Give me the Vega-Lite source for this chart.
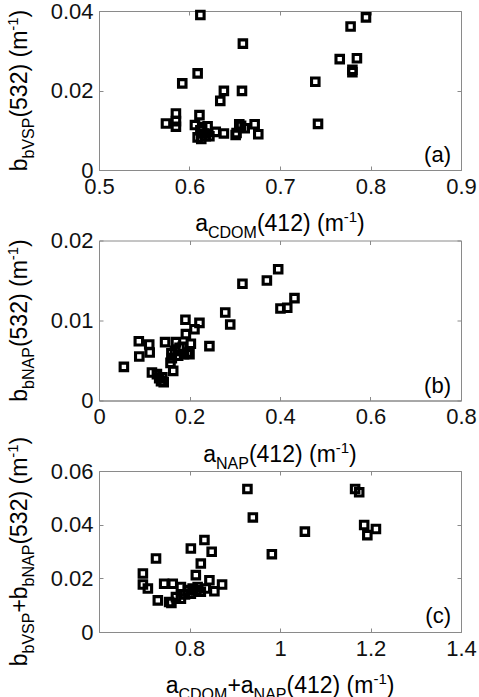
{
  "$schema": "https://vega.github.io/schema/vega-lite/v6.json",
  "padding": {"left": 5, "top": -1, "right": 0, "bottom": 0},
  "bounds": "flush",
  "spacing": 70.5,
  "config": {
    "font": "Liberation Sans",
    "view": {"stroke": "#8a8a8a", "strokeWidth": 1},
    "axis": {
      "grid": false,
      "domainColor": "#8a8a8a",
      "domainWidth": 1,
      "tickColor": "#8a8a8a",
      "tickWidth": 1,
      "tickSize": -4,
      "labelFont": "Liberation Sans",
      "labelFontSize": 22,
      "labelColor": "#111",
      "labelPadding": 10,
      "labelOverlap": false,
      "labelFlush": false,
      "labelBound": false,
      "format": "~g"
    },
    "text": {"font": "Liberation Sans", "color": "#000"}
  },
  "datasets": {
    "panelA": [
      {"a_cdom": 0.612, "bb_vsp": 0.0390},
      {"a_cdom": 0.659, "bb_vsp": 0.0318},
      {"a_cdom": 0.609, "bb_vsp": 0.0243},
      {"a_cdom": 0.592, "bb_vsp": 0.0218},
      {"a_cdom": 0.638, "bb_vsp": 0.0199},
      {"a_cdom": 0.658, "bb_vsp": 0.0199},
      {"a_cdom": 0.634, "bb_vsp": 0.0174},
      {"a_cdom": 0.585, "bb_vsp": 0.0142},
      {"a_cdom": 0.574, "bb_vsp": 0.0117},
      {"a_cdom": 0.585, "bb_vsp": 0.0123},
      {"a_cdom": 0.585, "bb_vsp": 0.0109},
      {"a_cdom": 0.611, "bb_vsp": 0.0138},
      {"a_cdom": 0.606, "bb_vsp": 0.0113},
      {"a_cdom": 0.614, "bb_vsp": 0.0108},
      {"a_cdom": 0.609, "bb_vsp": 0.0082},
      {"a_cdom": 0.613, "bb_vsp": 0.0078},
      {"a_cdom": 0.618, "bb_vsp": 0.0085},
      {"a_cdom": 0.620, "bb_vsp": 0.0110},
      {"a_cdom": 0.616, "bb_vsp": 0.0092},
      {"a_cdom": 0.612, "bb_vsp": 0.0100},
      {"a_cdom": 0.622, "bb_vsp": 0.0085},
      {"a_cdom": 0.629, "bb_vsp": 0.0096},
      {"a_cdom": 0.638, "bb_vsp": 0.0092},
      {"a_cdom": 0.651, "bb_vsp": 0.0088},
      {"a_cdom": 0.652, "bb_vsp": 0.0093},
      {"a_cdom": 0.655, "bb_vsp": 0.0115},
      {"a_cdom": 0.657, "bb_vsp": 0.0111},
      {"a_cdom": 0.661, "bb_vsp": 0.0105},
      {"a_cdom": 0.672, "bb_vsp": 0.0115},
      {"a_cdom": 0.676, "bb_vsp": 0.0090},
      {"a_cdom": 0.739, "bb_vsp": 0.0222},
      {"a_cdom": 0.742, "bb_vsp": 0.0116},
      {"a_cdom": 0.766, "bb_vsp": 0.0279},
      {"a_cdom": 0.785, "bb_vsp": 0.0281},
      {"a_cdom": 0.780, "bb_vsp": 0.0252},
      {"a_cdom": 0.780, "bb_vsp": 0.0246},
      {"a_cdom": 0.778, "bb_vsp": 0.0361},
      {"a_cdom": 0.795, "bb_vsp": 0.0384}
    ],
    "panelB": [
      {"a_nap": 0.055, "bb_nap": 0.0042},
      {"a_nap": 0.088, "bb_nap": 0.0074},
      {"a_nap": 0.089, "bb_nap": 0.0055},
      {"a_nap": 0.111, "bb_nap": 0.0070},
      {"a_nap": 0.112, "bb_nap": 0.0060},
      {"a_nap": 0.117, "bb_nap": 0.0035},
      {"a_nap": 0.128, "bb_nap": 0.0033},
      {"a_nap": 0.133, "bb_nap": 0.0028},
      {"a_nap": 0.137, "bb_nap": 0.0024},
      {"a_nap": 0.140, "bb_nap": 0.0029},
      {"a_nap": 0.143, "bb_nap": 0.0023},
      {"a_nap": 0.146, "bb_nap": 0.0073},
      {"a_nap": 0.164, "bb_nap": 0.0037},
      {"a_nap": 0.170, "bb_nap": 0.0073},
      {"a_nap": 0.158, "bb_nap": 0.0047},
      {"a_nap": 0.161, "bb_nap": 0.0053},
      {"a_nap": 0.160, "bb_nap": 0.0059},
      {"a_nap": 0.168, "bb_nap": 0.0062},
      {"a_nap": 0.175, "bb_nap": 0.0056},
      {"a_nap": 0.178, "bb_nap": 0.0066},
      {"a_nap": 0.185, "bb_nap": 0.0067},
      {"a_nap": 0.188, "bb_nap": 0.0058},
      {"a_nap": 0.192, "bb_nap": 0.0083},
      {"a_nap": 0.191, "bb_nap": 0.0101},
      {"a_nap": 0.196, "bb_nap": 0.0060},
      {"a_nap": 0.200, "bb_nap": 0.0058},
      {"a_nap": 0.203, "bb_nap": 0.0071},
      {"a_nap": 0.211, "bb_nap": 0.0089},
      {"a_nap": 0.222, "bb_nap": 0.0097},
      {"a_nap": 0.244, "bb_nap": 0.0068},
      {"a_nap": 0.279, "bb_nap": 0.0110},
      {"a_nap": 0.290, "bb_nap": 0.0095},
      {"a_nap": 0.317, "bb_nap": 0.0146},
      {"a_nap": 0.371, "bb_nap": 0.0150},
      {"a_nap": 0.396, "bb_nap": 0.0164},
      {"a_nap": 0.401, "bb_nap": 0.0115},
      {"a_nap": 0.416, "bb_nap": 0.0116},
      {"a_nap": 0.432, "bb_nap": 0.0128}
    ],
    "panelC": [
      {"a_sum": 0.697, "bb_sum": 0.0218},
      {"a_sum": 0.697, "bb_sum": 0.0177},
      {"a_sum": 0.708, "bb_sum": 0.0162},
      {"a_sum": 0.726, "bb_sum": 0.0274},
      {"a_sum": 0.730, "bb_sum": 0.0118},
      {"a_sum": 0.744, "bb_sum": 0.0180},
      {"a_sum": 0.755, "bb_sum": 0.0112},
      {"a_sum": 0.760, "bb_sum": 0.0108},
      {"a_sum": 0.763, "bb_sum": 0.0180},
      {"a_sum": 0.770, "bb_sum": 0.0130},
      {"a_sum": 0.781, "bb_sum": 0.0124},
      {"a_sum": 0.781, "bb_sum": 0.0168},
      {"a_sum": 0.790, "bb_sum": 0.0140},
      {"a_sum": 0.796, "bb_sum": 0.0156},
      {"a_sum": 0.803, "bb_sum": 0.0143},
      {"a_sum": 0.807, "bb_sum": 0.0162},
      {"a_sum": 0.803, "bb_sum": 0.0311},
      {"a_sum": 0.814, "bb_sum": 0.0212},
      {"a_sum": 0.815, "bb_sum": 0.0155},
      {"a_sum": 0.818, "bb_sum": 0.0168},
      {"a_sum": 0.825, "bb_sum": 0.0150},
      {"a_sum": 0.825, "bb_sum": 0.0255},
      {"a_sum": 0.833, "bb_sum": 0.0343},
      {"a_sum": 0.836, "bb_sum": 0.0162},
      {"a_sum": 0.844, "bb_sum": 0.0193},
      {"a_sum": 0.849, "bb_sum": 0.0299},
      {"a_sum": 0.855, "bb_sum": 0.0152},
      {"a_sum": 0.872, "bb_sum": 0.0177},
      {"a_sum": 0.928, "bb_sum": 0.0533},
      {"a_sum": 0.940, "bb_sum": 0.0427},
      {"a_sum": 0.982, "bb_sum": 0.0290},
      {"a_sum": 1.055, "bb_sum": 0.0374},
      {"a_sum": 1.166, "bb_sum": 0.0533},
      {"a_sum": 1.175, "bb_sum": 0.0521},
      {"a_sum": 1.186, "bb_sum": 0.0399},
      {"a_sum": 1.212, "bb_sum": 0.0384},
      {"a_sum": 1.193, "bb_sum": 0.0361}
    ]
  },
  "vconcat": [
    {
      "width": 362,
      "height": 159,
      "resolve": {"axis": {"x": "independent", "y": "independent"}},
      "layer": [
        {
          "data": {"name": "panelA"},
          "mark": {"type": "point", "shape": "square", "filled": false, "size": 56, "strokeWidth": 3.1, "color": "#000", "opacity": 1},
          "encoding": {
            "x": {"field": "a_cdom", "type": "quantitative", "scale": {"domain": [0.5, 0.9], "nice": false, "zero": false}, "axis": {"values": [0.5, 0.6, 0.7, 0.8, 0.9], "title": null}},
            "y": {"field": "bb_vsp", "type": "quantitative", "scale": {"domain": [0, 0.04], "nice": false, "zero": false}, "axis": {"values": [0, 0.02, 0.04], "title": null}}
          }
        },
        {
          "data": {"name": "panelA"},
          "mark": {"type": "point", "opacity": 0},
          "encoding": {
            "x": {"field": "a_cdom", "type": "quantitative", "scale": {"domain": [0.5, 0.9], "nice": false, "zero": false}, "axis": {"orient": "top", "values": [0.5, 0.6, 0.7, 0.8, 0.9], "labels": false, "domain": false, "title": null}},
            "y": {"field": "bb_vsp", "type": "quantitative", "scale": {"domain": [0, 0.04], "nice": false, "zero": false}, "axis": {"orient": "right", "values": [0, 0.02, 0.04], "labels": false, "domain": false, "title": null}}
          }
        },
        {"data": {"values": [{}]}, "mark": {"type": "text", "text": "(a)", "fontSize": 22, "align": "right", "baseline": "alphabetic", "dx": -10, "dy": -8},
         "encoding": {"x": {"datum": 0.9, "type": "quantitative", "scale": {"domain": [0.5, 0.9], "nice": false, "zero": false}, "axis": null}, "y": {"datum": 0, "type": "quantitative", "scale": {"domain": [0, 0.04], "nice": false, "zero": false}, "axis": null}}},
        {"data": {"values": [{}]}, "mark": {"type": "text", "text": "a", "fontSize": 23, "align": "left", "baseline": "alphabetic", "dx": -84.8, "dy": 61},
         "encoding": {"x": {"datum": 0.7, "type": "quantitative", "scale": {"domain": [0.5, 0.9], "nice": false, "zero": false}, "axis": null}, "y": {"datum": 0, "type": "quantitative", "scale": {"domain": [0, 0.04], "nice": false, "zero": false}, "axis": null}}},
        {"data": {"values": [{}]}, "mark": {"type": "text", "text": "CDOM", "fontSize": 16, "align": "left", "baseline": "alphabetic", "dx": -72.0, "dy": 68},
         "encoding": {"x": {"datum": 0.7, "type": "quantitative", "scale": {"domain": [0.5, 0.9], "nice": false, "zero": false}, "axis": null}, "y": {"datum": 0, "type": "quantitative", "scale": {"domain": [0, 0.04], "nice": false, "zero": false}, "axis": null}}},
        {"data": {"values": [{}]}, "mark": {"type": "text", "text": "(412) (m", "fontSize": 23, "align": "left", "baseline": "alphabetic", "dx": -23.1, "dy": 61},
         "encoding": {"x": {"datum": 0.7, "type": "quantitative", "scale": {"domain": [0.5, 0.9], "nice": false, "zero": false}, "axis": null}, "y": {"datum": 0, "type": "quantitative", "scale": {"domain": [0, 0.04], "nice": false, "zero": false}, "axis": null}}},
        {"data": {"values": [{}]}, "mark": {"type": "text", "text": "-1", "fontSize": 15, "align": "left", "baseline": "alphabetic", "dx": 63.8, "dy": 52},
         "encoding": {"x": {"datum": 0.7, "type": "quantitative", "scale": {"domain": [0.5, 0.9], "nice": false, "zero": false}, "axis": null}, "y": {"datum": 0, "type": "quantitative", "scale": {"domain": [0, 0.04], "nice": false, "zero": false}, "axis": null}}},
        {"data": {"values": [{}]}, "mark": {"type": "text", "text": ")", "fontSize": 23, "align": "left", "baseline": "alphabetic", "dx": 77.1, "dy": 61},
         "encoding": {"x": {"datum": 0.7, "type": "quantitative", "scale": {"domain": [0.5, 0.9], "nice": false, "zero": false}, "axis": null}, "y": {"datum": 0, "type": "quantitative", "scale": {"domain": [0, 0.04], "nice": false, "zero": false}, "axis": null}}},
        {"data": {"values": [{}]}, "mark": {"type": "text", "text": "b", "fontSize": 23, "angle": 270, "align": "left", "baseline": "alphabetic", "dx": -80.8, "dy": -72},
         "encoding": {"x": {"datum": 0.5, "type": "quantitative", "scale": {"domain": [0.5, 0.9], "nice": false, "zero": false}, "axis": null}, "y": {"datum": 0.02, "type": "quantitative", "scale": {"domain": [0, 0.04], "nice": false, "zero": false}, "axis": null}}},
        {"data": {"values": [{}]}, "mark": {"type": "text", "text": "bVSP", "fontSize": 16, "angle": 270, "align": "left", "baseline": "alphabetic", "dx": -68.0, "dy": -65},
         "encoding": {"x": {"datum": 0.5, "type": "quantitative", "scale": {"domain": [0.5, 0.9], "nice": false, "zero": false}, "axis": null}, "y": {"datum": 0.02, "type": "quantitative", "scale": {"domain": [0, 0.04], "nice": false, "zero": false}, "axis": null}}},
        {"data": {"values": [{}]}, "mark": {"type": "text", "text": "(532) (m", "fontSize": 23, "angle": 270, "align": "left", "baseline": "alphabetic", "dx": -27.1, "dy": -72},
         "encoding": {"x": {"datum": 0.5, "type": "quantitative", "scale": {"domain": [0.5, 0.9], "nice": false, "zero": false}, "axis": null}, "y": {"datum": 0.02, "type": "quantitative", "scale": {"domain": [0, 0.04], "nice": false, "zero": false}, "axis": null}}},
        {"data": {"values": [{}]}, "mark": {"type": "text", "text": "-1", "fontSize": 15, "angle": 270, "align": "left", "baseline": "alphabetic", "dx": 59.8, "dy": -81},
         "encoding": {"x": {"datum": 0.5, "type": "quantitative", "scale": {"domain": [0.5, 0.9], "nice": false, "zero": false}, "axis": null}, "y": {"datum": 0.02, "type": "quantitative", "scale": {"domain": [0, 0.04], "nice": false, "zero": false}, "axis": null}}},
        {"data": {"values": [{}]}, "mark": {"type": "text", "text": ")", "fontSize": 23, "angle": 270, "align": "left", "baseline": "alphabetic", "dx": 73.1, "dy": -72},
         "encoding": {"x": {"datum": 0.5, "type": "quantitative", "scale": {"domain": [0.5, 0.9], "nice": false, "zero": false}, "axis": null}, "y": {"datum": 0.02, "type": "quantitative", "scale": {"domain": [0, 0.04], "nice": false, "zero": false}, "axis": null}}}
      ]
    },
    {
      "width": 362,
      "height": 160,
      "resolve": {"axis": {"x": "independent", "y": "independent"}},
      "layer": [
        {
          "data": {"name": "panelB"},
          "mark": {"type": "point", "shape": "square", "filled": false, "size": 56, "strokeWidth": 3.1, "color": "#000", "opacity": 1},
          "encoding": {
            "x": {"field": "a_nap", "type": "quantitative", "scale": {"domain": [0, 0.8], "nice": false, "zero": false}, "axis": {"values": [0, 0.2, 0.4, 0.6, 0.8], "title": null}},
            "y": {"field": "bb_nap", "type": "quantitative", "scale": {"domain": [0, 0.02], "nice": false, "zero": false}, "axis": {"values": [0, 0.01, 0.02], "title": null}}
          }
        },
        {
          "data": {"name": "panelB"},
          "mark": {"type": "point", "opacity": 0},
          "encoding": {
            "x": {"field": "a_nap", "type": "quantitative", "scale": {"domain": [0, 0.8], "nice": false, "zero": false}, "axis": {"orient": "top", "values": [0, 0.2, 0.4, 0.6, 0.8], "labels": false, "domain": false, "title": null}},
            "y": {"field": "bb_nap", "type": "quantitative", "scale": {"domain": [0, 0.02], "nice": false, "zero": false}, "axis": {"orient": "right", "values": [0, 0.01, 0.02], "labels": false, "domain": false, "title": null}}
          }
        },
        {"data": {"values": [{}]}, "mark": {"type": "text", "text": "(b)", "fontSize": 22, "align": "right", "baseline": "alphabetic", "dx": -10, "dy": -8},
         "encoding": {"x": {"datum": 0.8, "type": "quantitative", "scale": {"domain": [0, 0.8], "nice": false, "zero": false}, "axis": null}, "y": {"datum": 0, "type": "quantitative", "scale": {"domain": [0, 0.02], "nice": false, "zero": false}, "axis": null}}},
        {"data": {"values": [{}]}, "mark": {"type": "text", "text": "a", "fontSize": 23, "align": "left", "baseline": "alphabetic", "dx": -76.8, "dy": 61},
         "encoding": {"x": {"datum": 0.4, "type": "quantitative", "scale": {"domain": [0, 0.8], "nice": false, "zero": false}, "axis": null}, "y": {"datum": 0, "type": "quantitative", "scale": {"domain": [0, 0.02], "nice": false, "zero": false}, "axis": null}}},
        {"data": {"values": [{}]}, "mark": {"type": "text", "text": "NAP", "fontSize": 16, "align": "left", "baseline": "alphabetic", "dx": -64.0, "dy": 68},
         "encoding": {"x": {"datum": 0.4, "type": "quantitative", "scale": {"domain": [0, 0.8], "nice": false, "zero": false}, "axis": null}, "y": {"datum": 0, "type": "quantitative", "scale": {"domain": [0, 0.02], "nice": false, "zero": false}, "axis": null}}},
        {"data": {"values": [{}]}, "mark": {"type": "text", "text": "(412) (m", "fontSize": 23, "align": "left", "baseline": "alphabetic", "dx": -31.1, "dy": 61},
         "encoding": {"x": {"datum": 0.4, "type": "quantitative", "scale": {"domain": [0, 0.8], "nice": false, "zero": false}, "axis": null}, "y": {"datum": 0, "type": "quantitative", "scale": {"domain": [0, 0.02], "nice": false, "zero": false}, "axis": null}}},
        {"data": {"values": [{}]}, "mark": {"type": "text", "text": "-1", "fontSize": 15, "align": "left", "baseline": "alphabetic", "dx": 55.8, "dy": 52},
         "encoding": {"x": {"datum": 0.4, "type": "quantitative", "scale": {"domain": [0, 0.8], "nice": false, "zero": false}, "axis": null}, "y": {"datum": 0, "type": "quantitative", "scale": {"domain": [0, 0.02], "nice": false, "zero": false}, "axis": null}}},
        {"data": {"values": [{}]}, "mark": {"type": "text", "text": ")", "fontSize": 23, "align": "left", "baseline": "alphabetic", "dx": 69.1, "dy": 61},
         "encoding": {"x": {"datum": 0.4, "type": "quantitative", "scale": {"domain": [0, 0.8], "nice": false, "zero": false}, "axis": null}, "y": {"datum": 0, "type": "quantitative", "scale": {"domain": [0, 0.02], "nice": false, "zero": false}, "axis": null}}},
        {"data": {"values": [{}]}, "mark": {"type": "text", "text": "b", "fontSize": 23, "angle": 270, "align": "left", "baseline": "alphabetic", "dx": -81.2, "dy": -72},
         "encoding": {"x": {"datum": 0, "type": "quantitative", "scale": {"domain": [0, 0.8], "nice": false, "zero": false}, "axis": null}, "y": {"datum": 0.01, "type": "quantitative", "scale": {"domain": [0, 0.02], "nice": false, "zero": false}, "axis": null}}},
        {"data": {"values": [{}]}, "mark": {"type": "text", "text": "bNAP", "fontSize": 16, "angle": 270, "align": "left", "baseline": "alphabetic", "dx": -68.4, "dy": -65},
         "encoding": {"x": {"datum": 0, "type": "quantitative", "scale": {"domain": [0, 0.8], "nice": false, "zero": false}, "axis": null}, "y": {"datum": 0.01, "type": "quantitative", "scale": {"domain": [0, 0.02], "nice": false, "zero": false}, "axis": null}}},
        {"data": {"values": [{}]}, "mark": {"type": "text", "text": "(532) (m", "fontSize": 23, "angle": 270, "align": "left", "baseline": "alphabetic", "dx": -26.6, "dy": -72},
         "encoding": {"x": {"datum": 0, "type": "quantitative", "scale": {"domain": [0, 0.8], "nice": false, "zero": false}, "axis": null}, "y": {"datum": 0.01, "type": "quantitative", "scale": {"domain": [0, 0.02], "nice": false, "zero": false}, "axis": null}}},
        {"data": {"values": [{}]}, "mark": {"type": "text", "text": "-1", "fontSize": 15, "angle": 270, "align": "left", "baseline": "alphabetic", "dx": 60.3, "dy": -81},
         "encoding": {"x": {"datum": 0, "type": "quantitative", "scale": {"domain": [0, 0.8], "nice": false, "zero": false}, "axis": null}, "y": {"datum": 0.01, "type": "quantitative", "scale": {"domain": [0, 0.02], "nice": false, "zero": false}, "axis": null}}},
        {"data": {"values": [{}]}, "mark": {"type": "text", "text": ")", "fontSize": 23, "angle": 270, "align": "left", "baseline": "alphabetic", "dx": 73.6, "dy": -72},
         "encoding": {"x": {"datum": 0, "type": "quantitative", "scale": {"domain": [0, 0.8], "nice": false, "zero": false}, "axis": null}, "y": {"datum": 0.01, "type": "quantitative", "scale": {"domain": [0, 0.02], "nice": false, "zero": false}, "axis": null}}}
      ]
    },
    {
      "width": 362,
      "height": 161,
      "resolve": {"axis": {"x": "independent", "y": "independent"}},
      "layer": [
        {
          "data": {"name": "panelC"},
          "mark": {"type": "point", "shape": "square", "filled": false, "size": 56, "strokeWidth": 3.1, "color": "#000", "opacity": 1},
          "encoding": {
            "x": {"field": "a_sum", "type": "quantitative", "scale": {"domain": [0.6, 1.4], "nice": false, "zero": false}, "axis": {"values": [0.8, 1, 1.2, 1.4], "title": null}},
            "y": {"field": "bb_sum", "type": "quantitative", "scale": {"domain": [0, 0.06], "nice": false, "zero": false}, "axis": {"values": [0, 0.02, 0.04, 0.06], "title": null}}
          }
        },
        {
          "data": {"name": "panelC"},
          "mark": {"type": "point", "opacity": 0},
          "encoding": {
            "x": {"field": "a_sum", "type": "quantitative", "scale": {"domain": [0.6, 1.4], "nice": false, "zero": false}, "axis": {"orient": "top", "values": [0.8, 1, 1.2, 1.4], "labels": false, "domain": false, "title": null}},
            "y": {"field": "bb_sum", "type": "quantitative", "scale": {"domain": [0, 0.06], "nice": false, "zero": false}, "axis": {"orient": "right", "values": [0, 0.02, 0.04, 0.06], "labels": false, "domain": false, "title": null}}
          }
        },
        {"data": {"values": [{}]}, "mark": {"type": "text", "text": "(c)", "fontSize": 22, "align": "right", "baseline": "alphabetic", "dx": -10, "dy": -9},
         "encoding": {"x": {"datum": 1.4, "type": "quantitative", "scale": {"domain": [0.6, 1.4], "nice": false, "zero": false}, "axis": null}, "y": {"datum": 0, "type": "quantitative", "scale": {"domain": [0, 0.06], "nice": false, "zero": false}, "axis": null}}},
        {"data": {"values": [{}]}, "mark": {"type": "text", "text": "a", "fontSize": 23, "align": "left", "baseline": "alphabetic", "dx": -114.3, "dy": 61},
         "encoding": {"x": {"datum": 1.0, "type": "quantitative", "scale": {"domain": [0.6, 1.4], "nice": false, "zero": false}, "axis": null}, "y": {"datum": 0, "type": "quantitative", "scale": {"domain": [0, 0.06], "nice": false, "zero": false}, "axis": null}}},
        {"data": {"values": [{}]}, "mark": {"type": "text", "text": "CDOM", "fontSize": 16, "align": "left", "baseline": "alphabetic", "dx": -101.5, "dy": 68},
         "encoding": {"x": {"datum": 1.0, "type": "quantitative", "scale": {"domain": [0.6, 1.4], "nice": false, "zero": false}, "axis": null}, "y": {"datum": 0, "type": "quantitative", "scale": {"domain": [0, 0.06], "nice": false, "zero": false}, "axis": null}}},
        {"data": {"values": [{}]}, "mark": {"type": "text", "text": "+a", "fontSize": 23, "align": "left", "baseline": "alphabetic", "dx": -52.6, "dy": 61},
         "encoding": {"x": {"datum": 1.0, "type": "quantitative", "scale": {"domain": [0.6, 1.4], "nice": false, "zero": false}, "axis": null}, "y": {"datum": 0, "type": "quantitative", "scale": {"domain": [0, 0.06], "nice": false, "zero": false}, "axis": null}}},
        {"data": {"values": [{}]}, "mark": {"type": "text", "text": "NAP", "fontSize": 16, "align": "left", "baseline": "alphabetic", "dx": -26.4, "dy": 68},
         "encoding": {"x": {"datum": 1.0, "type": "quantitative", "scale": {"domain": [0.6, 1.4], "nice": false, "zero": false}, "axis": null}, "y": {"datum": 0, "type": "quantitative", "scale": {"domain": [0, 0.06], "nice": false, "zero": false}, "axis": null}}},
        {"data": {"values": [{}]}, "mark": {"type": "text", "text": "(412) (m", "fontSize": 23, "align": "left", "baseline": "alphabetic", "dx": 6.5, "dy": 61},
         "encoding": {"x": {"datum": 1.0, "type": "quantitative", "scale": {"domain": [0.6, 1.4], "nice": false, "zero": false}, "axis": null}, "y": {"datum": 0, "type": "quantitative", "scale": {"domain": [0, 0.06], "nice": false, "zero": false}, "axis": null}}},
        {"data": {"values": [{}]}, "mark": {"type": "text", "text": "-1", "fontSize": 15, "align": "left", "baseline": "alphabetic", "dx": 93.4, "dy": 52},
         "encoding": {"x": {"datum": 1.0, "type": "quantitative", "scale": {"domain": [0.6, 1.4], "nice": false, "zero": false}, "axis": null}, "y": {"datum": 0, "type": "quantitative", "scale": {"domain": [0, 0.06], "nice": false, "zero": false}, "axis": null}}},
        {"data": {"values": [{}]}, "mark": {"type": "text", "text": ")", "fontSize": 23, "align": "left", "baseline": "alphabetic", "dx": 106.7, "dy": 61},
         "encoding": {"x": {"datum": 1.0, "type": "quantitative", "scale": {"domain": [0.6, 1.4], "nice": false, "zero": false}, "axis": null}, "y": {"datum": 0, "type": "quantitative", "scale": {"domain": [0, 0.06], "nice": false, "zero": false}, "axis": null}}},
        {"data": {"values": [{}]}, "mark": {"type": "text", "text": "b", "fontSize": 23, "angle": 270, "align": "left", "baseline": "alphabetic", "dx": -114.8, "dy": -72},
         "encoding": {"x": {"datum": 0.6, "type": "quantitative", "scale": {"domain": [0.6, 1.4], "nice": false, "zero": false}, "axis": null}, "y": {"datum": 0.03, "type": "quantitative", "scale": {"domain": [0, 0.06], "nice": false, "zero": false}, "axis": null}}},
        {"data": {"values": [{}]}, "mark": {"type": "text", "text": "bVSP", "fontSize": 16, "angle": 270, "align": "left", "baseline": "alphabetic", "dx": -102.0, "dy": -65},
         "encoding": {"x": {"datum": 0.6, "type": "quantitative", "scale": {"domain": [0.6, 1.4], "nice": false, "zero": false}, "axis": null}, "y": {"datum": 0.03, "type": "quantitative", "scale": {"domain": [0, 0.06], "nice": false, "zero": false}, "axis": null}}},
        {"data": {"values": [{}]}, "mark": {"type": "text", "text": "+b", "fontSize": 23, "angle": 270, "align": "left", "baseline": "alphabetic", "dx": -61.1, "dy": -72},
         "encoding": {"x": {"datum": 0.6, "type": "quantitative", "scale": {"domain": [0.6, 1.4], "nice": false, "zero": false}, "axis": null}, "y": {"datum": 0.03, "type": "quantitative", "scale": {"domain": [0, 0.06], "nice": false, "zero": false}, "axis": null}}},
        {"data": {"values": [{}]}, "mark": {"type": "text", "text": "bNAP", "fontSize": 16, "angle": 270, "align": "left", "baseline": "alphabetic", "dx": -34.9, "dy": -65},
         "encoding": {"x": {"datum": 0.6, "type": "quantitative", "scale": {"domain": [0.6, 1.4], "nice": false, "zero": false}, "axis": null}, "y": {"datum": 0.03, "type": "quantitative", "scale": {"domain": [0, 0.06], "nice": false, "zero": false}, "axis": null}}},
        {"data": {"values": [{}]}, "mark": {"type": "text", "text": "(532) (m", "fontSize": 23, "angle": 270, "align": "left", "baseline": "alphabetic", "dx": 6.9, "dy": -72},
         "encoding": {"x": {"datum": 0.6, "type": "quantitative", "scale": {"domain": [0.6, 1.4], "nice": false, "zero": false}, "axis": null}, "y": {"datum": 0.03, "type": "quantitative", "scale": {"domain": [0, 0.06], "nice": false, "zero": false}, "axis": null}}},
        {"data": {"values": [{}]}, "mark": {"type": "text", "text": "-1", "fontSize": 15, "angle": 270, "align": "left", "baseline": "alphabetic", "dx": 93.8, "dy": -81},
         "encoding": {"x": {"datum": 0.6, "type": "quantitative", "scale": {"domain": [0.6, 1.4], "nice": false, "zero": false}, "axis": null}, "y": {"datum": 0.03, "type": "quantitative", "scale": {"domain": [0, 0.06], "nice": false, "zero": false}, "axis": null}}},
        {"data": {"values": [{}]}, "mark": {"type": "text", "text": ")", "fontSize": 23, "angle": 270, "align": "left", "baseline": "alphabetic", "dx": 107.1, "dy": -72},
         "encoding": {"x": {"datum": 0.6, "type": "quantitative", "scale": {"domain": [0.6, 1.4], "nice": false, "zero": false}, "axis": null}, "y": {"datum": 0.03, "type": "quantitative", "scale": {"domain": [0, 0.06], "nice": false, "zero": false}, "axis": null}}}
      ]
    }
  ]
}
